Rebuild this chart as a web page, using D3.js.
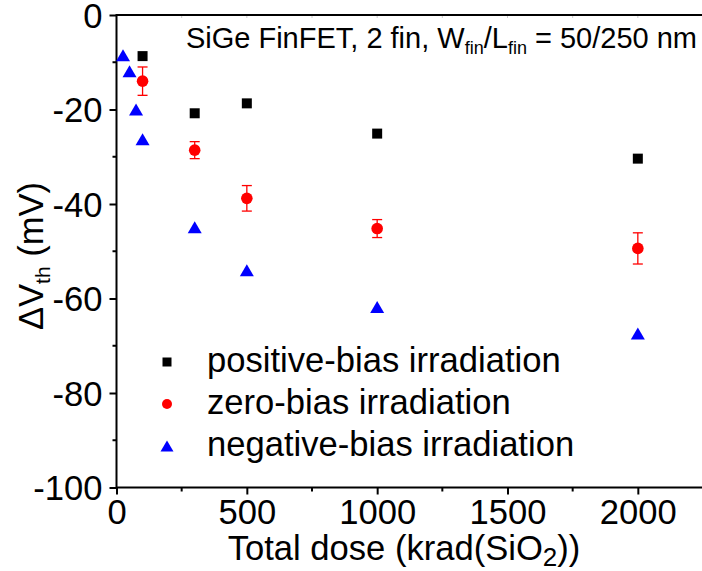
<!DOCTYPE html>
<html>
<head>
<meta charset="utf-8">
<script src="https://cdn.jsdelivr.net/npm/d3@7"></script>
<style>
  body { margin: 0; background: #fff; }
  svg { display: block; font-family: "Liberation Sans", Arial, sans-serif; }
</style>
</head>
<body>
<svg id="chart" width="702" height="571"></svg>
<script>
// Delta Vth vs total dose for SiGe FinFET, three bias conditions

const positiveDose = [100, 300, 500, 1000, 2000];
const positiveShift = [-8.7, -20.8, -18.7, -25.1, -30.4];

const zeroDose = [100, 300, 500, 1000, 2000];
const zeroShift = [-14.0, -28.6, -38.8, -45.2, -49.4];
const zeroErr = [3.0, 1.8, 2.7, 1.9, 3.3];

const negativeDose = [25, 50, 75, 100, 300, 500, 1000, 2000];
const negativeShift = [-8.5, -11.9, -20.0, -26.3, -44.9, -54.0, -61.8, -67.4];

const xTicks = [0, 500, 1000, 1500, 2000];
const yTicks = [0, -20, -40, -60, -80, -100];
const legendLabels = ['positive-bias irradiation', 'zero-bias irradiation', 'negative-bias irradiation'];

const svg = d3.select('#chart');
const W = +svg.attr('width'), H = +svg.attr('height');
const m = {left: 116.5, top: 15, right: -1, bottom: 83.5};
const iw = W - m.left - m.right, ih = H - m.top - m.bottom;
const g = svg.append('g').attr('transform', `translate(${m.left},${m.top})`);

const x = d3.scaleLinear().domain([0, 2250]).range([0, iw]);
const y = d3.scaleLinear().domain([-100, 0]).range([ih, 0]);

const FS = 34.6;

// minor ticks
const xMinor = d3.range(250, 2250, 500);
const yMinor = d3.range(-90, 0, 20);

// bottom axis
const xAx = g.append('g').attr('transform', `translate(0,${ih})`)
    .call(d3.axisBottom(x).tickValues(xTicks).tickSize(7).tickPadding(5).tickFormat(d => String(d)));
xAx.selectAll('.tick line').attr('stroke-width', 2);
xAx.selectAll('text').attr('font-size', FS).attr('fill', '#000');
xAx.select('.domain').remove();
g.append('g').attr('transform', `translate(0,${ih})`).selectAll('line').data(xMinor).join('line')
    .attr('x1', d => x(d)).attr('x2', d => x(d)).attr('y1', 0).attr('y2', 4)
    .attr('stroke', '#000').attr('stroke-width', 2);

// left axis
const yAx = g.append('g')
    .call(d3.axisLeft(y).tickValues(yTicks).tickSize(7).tickPadding(7).tickFormat(d => String(d)));
yAx.selectAll('.tick line').attr('stroke-width', 2);
yAx.selectAll('text').attr('font-size', FS).attr('fill', '#000').attr('dy', '0.35em');
yAx.select('.domain').remove();
g.append('g').selectAll('line').data(yMinor).join('line')
    .attr('x1', -4).attr('x2', 0).attr('y1', d => y(d)).attr('y2', d => y(d))
    .attr('stroke', '#000').attr('stroke-width', 2);

// faint top ticks
g.append('g').selectAll('line').data(d3.range(250, 2250, 250)).join('line')
    .attr('x1', d => x(d)).attr('x2', d => x(d)).attr('y1', 0).attr('y2', 3)
    .attr('stroke', '#ccc').attr('stroke-width', 1);

// frame
g.append('rect').attr('x', 0).attr('y', 0).attr('width', iw).attr('height', ih)
    .attr('fill', 'none').attr('stroke', '#000').attr('stroke-width', 2);

// data
const sym = (type, size) => d3.symbol().type(type).size(size)();
const triPath = (w, h) => `M0,${-h/2}L${w/2},${h/2}L${-w/2},${h/2}Z`;

g.append('g').selectAll('path').data(positiveDose).join('path')
    .attr('d', sym(d3.symbolSquare, 100))
    .attr('transform', (d, i) => `translate(${x(d)},${y(positiveShift[i])})`)
    .attr('fill', '#000');

const eb = g.append('g').attr('stroke', '#ff0000').attr('stroke-width', 1.3);
zeroDose.forEach((d, i) => {
  const cx = x(d), y0 = y(zeroShift[i] + zeroErr[i]), y1 = y(zeroShift[i] - zeroErr[i]);
  eb.append('line').attr('x1', cx).attr('x2', cx).attr('y1', y0).attr('y2', y1);
  eb.append('line').attr('x1', cx - 5).attr('x2', cx + 5).attr('y1', y0).attr('y2', y0);
  eb.append('line').attr('x1', cx - 5).attr('x2', cx + 5).attr('y1', y1).attr('y2', y1);
});
g.append('g').selectAll('circle').data(zeroDose).join('circle')
    .attr('cx', d => x(d)).attr('cy', (d, i) => y(zeroShift[i])).attr('r', 5.8)
    .attr('fill', '#ff0000');

g.append('g').selectAll('path').data(negativeDose).join('path')
    .attr('d', triPath(14, 12))
    .attr('transform', (d, i) => `translate(${x(d)},${y(negativeShift[i])})`)
    .attr('fill', '#0000ff');

// legend
const leg = svg.append('g');
const legY = [362, 404, 446];
leg.append('path').attr('d', sym(d3.symbolSquare, 81))
    .attr('transform', `translate(167,${legY[0]})`).attr('fill', '#000');
leg.append('circle').attr('cx', 167).attr('cy', legY[1]).attr('r', 5).attr('fill', '#ff0000');
leg.append('path').attr('d', triPath(13, 11))
    .attr('transform', `translate(167,${legY[2]})`).attr('fill', '#0000ff');
leg.selectAll('text').data(legendLabels).join('text')
    .attr('x', 207).attr('y', (d, i) => legY[i] + 10)
    .attr('font-size', FS).text(d => d);

// annotation
const ann = svg.append('text').attr('x', 697).attr('y', 48).attr('text-anchor', 'end')
    .attr('font-size', 29);
ann.append('tspan').text('SiGe FinFET, 2 fin, W');
ann.append('tspan').attr('font-size', 18).attr('dy', 6).text('fin');
ann.append('tspan').attr('dy', -6).text('/L');
ann.append('tspan').attr('font-size', 18).attr('dy', 6).text('fin');
ann.append('tspan').attr('dy', -6).text(' = 50/250 nm');

// axis titles
const xt = svg.append('text').attr('x', 404).attr('y', 560)
    .attr('text-anchor', 'middle').attr('font-size', FS);
xt.append('tspan').text('Total dose (krad(SiO');
xt.append('tspan').attr('font-size', 26).attr('dy', 6).text('2');
xt.append('tspan').attr('dy', -6).text('))');

const yt = svg.append('text').attr('transform', 'translate(43,256) rotate(-90)')
    .attr('text-anchor', 'middle').attr('font-size', FS);
yt.append('tspan').text('\u0394V');
yt.append('tspan').attr('font-size', 21).attr('dy', 7).text('th');
yt.append('tspan').attr('dy', -7).text(' (mV)');
</script>
</body>
</html>
